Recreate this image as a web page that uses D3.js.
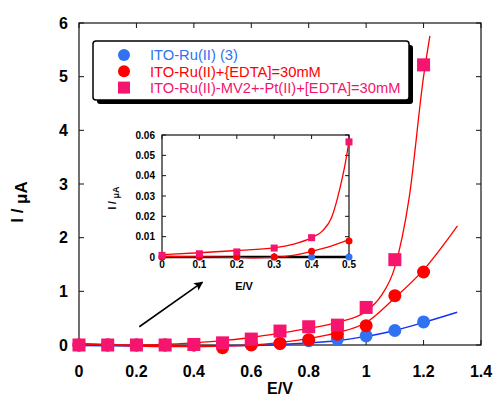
<!DOCTYPE html>
<html>
<head>
<meta charset="utf-8">
<script src="https://cdn.jsdelivr.net/npm/d3@7"></script>
<style>
  body{margin:0;background:#fff;}
  svg{display:block;font-family:"Liberation Sans",Arial,sans-serif;font-weight:bold;}
</style>
</head>
<body>
<svg id="chart" width="495" height="398"></svg>
<script>
// main plot values
const potentials = [0, 0.1, 0.2, 0.3, 0.4, 0.5, 0.6, 0.7, 0.8, 0.9, 1.0, 1.1, 1.2];
const ruOnly = [0, 0, 0, 0, 0, 0, 0.01, 0.03, 0.08, 0.11, 0.17, 0.27, 0.43];
const ruEdta = [0, 0, 0, 0, 0, -0.05, 0, 0.03, 0.1, 0.2, 0.36, 0.92, 1.36];
const ruMvPt = [0, 0, 0, 0, 0.01, 0.04, 0.11, 0.26, 0.34, 0.37, 0.7, 1.59, 5.22];
// fitted curves, [E, I]
const fitRuOnly = [[0,-0.01],[0.2,-0.02],[0.4,-0.02],[0.6,-0.01],[0.7,0.01],[0.8,0.04],[0.9,0.08],[1.0,0.16],[1.1,0.27],[1.2,0.42],[1.317,0.61]];
const fitRuEdta = [[0,0.02],[0.1,0.0],[0.2,-0.02],[0.3,-0.03],[0.4,-0.03],[0.5,-0.02],[0.6,0.0],[0.7,0.05],[0.8,0.12],[0.9,0.23],[1.0,0.42],[1.1,0.88],[1.2,1.4],[1.318,2.22]];
const fitRuMvPt = [[0,0.03],[0.1,0.01],[0.2,0.0],[0.3,0.01],[0.4,0.04],[0.5,0.08],[0.6,0.14],[0.7,0.22],[0.8,0.31],[0.9,0.42],[1.0,0.63],[1.05,0.9],[1.1,1.45],[1.15,2.75],[1.2,5.0],[1.222,5.76]];
const xTicks = [0, 0.2, 0.4, 0.6, 0.8, 1, 1.2, 1.4];
const yTicks = [0, 1, 2, 3, 4, 5, 6];
// inset values
const insetPotentials = [0, 0.1, 0.2, 0.3, 0.4, 0.5];
const insetRuOnly = [0, 0, 0, 0, 0, 0];
const insetRuEdta = [0, 0, 0, 0, 0.0028, 0.0079];
const insetRuMvPt = [0.0008, 0.0016, 0.0025, 0.0044, 0.0095, 0.0566];
const insetFitRuOnly = [[0,0],[0.5,0]];
const insetFitRuEdta = [[0,0.0003],[0.1,0.0001],[0.2,-0.0002],[0.25,-0.0004],[0.3,-0.0002],[0.35,0.0008],[0.4,0.0028],[0.45,0.0052],[0.5,0.0085]];
const insetFitRuMvPt = [[0,0.0012],[0.1,0.0021],[0.2,0.0032],[0.3,0.0045],[0.35,0.0062],[0.4,0.0095],[0.43,0.013],[0.454,0.0197],[0.476,0.034],[0.49,0.046],[0.5,0.057]];
const insetXTicks = [0, 0.1, 0.2, 0.3, 0.4, 0.5];
const insetYTicks = [0, 0.01, 0.02, 0.03, 0.04, 0.05, 0.06];
const legendLabels = ["ITO-Ru(II) (3)", "ITO-Ru(II)+{EDTA]=30mM", "ITO-Ru(II)-MV2+-Pt(II)+[EDTA]=30mM"];
const arrowFrom = [0.21, 0.34];
const arrowTo = [0.43, 1.17];

const blue = "#2f72f2", red = "#ff0000", pink = "#f5146e", lineBlue = "#1030ff";

const svg = d3.select("#chart");

const x = d3.scaleLinear().domain([0, 1.4]).range([79, 481]);
const y = d3.scaleLinear().domain([0, 6]).range([345, 23]);

//frame + ticks (inside, all four sides)
function frame(g, sx, sy, xt, yt, tl, fmtX, fmtY, fs, xOff, yOff){
    const [x0, x1] = sx.range(), [y0, y1] = sy.range();
    g.append("rect").attr("x", x0).attr("y", y1).attr("width", x1 - x0).attr("height", y0 - y1)
        .attr("fill", "none").attr("stroke", "#111").attr("stroke-width", 1.2);
    xt.forEach(t => {
        g.append("line").attr("x1", sx(t)).attr("x2", sx(t)).attr("y1", y0).attr("y2", y0 - tl).attr("stroke", "#111");
        g.append("line").attr("x1", sx(t)).attr("x2", sx(t)).attr("y1", y1).attr("y2", y1 + tl).attr("stroke", "#111");
        g.append("text").attr("x", sx(t)).attr("y", y0 + xOff).attr("text-anchor", "middle")
            .attr("font-size", fs).text(fmtX(t));
    });
    yt.forEach(t => {
        g.append("line").attr("y1", sy(t)).attr("y2", sy(t)).attr("x1", x0).attr("x2", x0 + tl).attr("stroke", "#111");
        g.append("line").attr("y1", sy(t)).attr("y2", sy(t)).attr("x1", x1).attr("x2", x1 - tl).attr("stroke", "#111");
        g.append("text").attr("x", x0 - yOff).attr("y", sy(t)).attr("dy", "0.36em").attr("text-anchor", "end")
            .attr("font-size", fs).text(fmtY(t));
    });
}

function series(g, sx, sy, xs, ys, fits, r, sq){
    const line = d3.line().x(d => sx(d[0])).y(d => sy(d[1])).curve(d3.curveMonotoneX);
    fits.forEach(f => {
        g.append("path").attr("d", line(f.pts)).attr("fill", "none")
            .attr("stroke", f.color).attr("stroke-width", f.w || 1.3);
    });
    g.selectAll(null).data(xs.map((e, i) => [e, ys[0][i]])).join("circle")
        .attr("cx", d => sx(d[0])).attr("cy", d => sy(d[1])).attr("r", r).attr("fill", blue);
    g.selectAll(null).data(xs.map((e, i) => [e, ys[1][i]])).join("circle")
        .attr("cx", d => sx(d[0])).attr("cy", d => sy(d[1])).attr("r", r).attr("fill", red);
    g.selectAll(null).data(xs.map((e, i) => [e, ys[2][i]])).join("rect")
        .attr("x", d => sx(d[0]) - sq / 2).attr("y", d => sy(d[1]) - sq / 2)
        .attr("width", sq).attr("height", sq).attr("fill", pink);
}

const main = svg.append("g");
frame(main, x, y, xTicks, yTicks, 5, d => d3.format("~g")(d), d => d, 16, 32, 11);

series(main, x, y, potentials, [ruOnly, ruEdta, ruMvPt], [
    {pts: fitRuOnly, color: lineBlue, w: 1.4},
    {pts: fitRuEdta, color: red},
    {pts: fitRuMvPt, color: red}
], 6.5, 13);

main.append("text").attr("x", (x.range()[0] + x.range()[1]) / 2).attr("y", 394)
    .attr("text-anchor", "middle").attr("font-size", 16).text("E/V");
const yt = main.append("text").attr("transform", "translate(23,202) rotate(-90)")
    .attr("text-anchor", "middle").attr("font-size", 17);
yt.append("tspan").text("I / ");
yt.append("tspan").attr("dy", 4).text("μA");

// arrow
const defs = svg.append("defs");
defs.append("marker").attr("id", "ah").attr("viewBox", "0 0 10 10").attr("refX", 9).attr("refY", 5)
    .attr("markerWidth", 13).attr("markerHeight", 9).attr("markerUnits", "userSpaceOnUse").attr("orient", "auto")
  .append("path").attr("d", "M0,0 L10,5 L0,10 L2,5 Z").attr("fill", "#000");
main.append("line").attr("x1", x(arrowFrom[0])).attr("y1", y(arrowFrom[1]))
    .attr("x2", x(arrowTo[0])).attr("y2", y(arrowTo[1]))
    .attr("stroke", "#000").attr("stroke-width", 1.6).attr("marker-end", "url(#ah)");

// legend
const lg = svg.append("g");
lg.append("rect").attr("x", 97).attr("y", 45).attr("width", 316).attr("height", 59).attr("rx", 3).attr("fill", "#000");
lg.append("rect").attr("x", 93).attr("y", 41).attr("width", 316).attr("height", 59).attr("rx", 3)
    .attr("fill", "#fff").attr("stroke", "#000").attr("stroke-width", 1.5);
const legColors = [blue, red, pink];
legendLabels.forEach((lab, i) => {
    const cy = 55 + i * 16.3;
    if(i < 2){
        lg.append("circle").attr("cx", 124).attr("cy", cy).attr("r", 6).attr("fill", legColors[i]);
    }else{
        lg.append("rect").attr("x", 118).attr("y", cy - 6).attr("width", 12).attr("height", 12).attr("fill", legColors[i]);
    }
    lg.append("text").attr("x", 150).attr("y", cy + 5.3).attr("font-size", 14.7).attr("font-weight", "normal")
        .attr("fill", legColors[i]).text(lab);
});

// inset
const xi = d3.scaleLinear().domain([0, 0.5]).range([162, 349]);
const yi = d3.scaleLinear().domain([0, 0.06]).range([257, 135]);
const inset = svg.append("g");
inset.append("rect").attr("x", 162).attr("y", 135).attr("width", 187).attr("height", 122).attr("fill", "#fff");
frame(inset, xi, yi, insetXTicks, insetYTicks, 4, d => d, d => d, 10, 11, 7);
series(inset, xi, yi, insetPotentials, [insetRuOnly, insetRuEdta, insetRuMvPt], [
    {pts: insetFitRuOnly, color: "#000", w: 2.4},
    {pts: insetFitRuEdta, color: red},
    {pts: insetFitRuMvPt, color: red}
], 3.5, 7);
inset.append("text").attr("x", 244).attr("y", 290).attr("text-anchor", "middle").attr("font-size", 11).text("E/V");
const it = inset.append("text").attr("transform", "translate(116,198) rotate(-90)")
    .attr("text-anchor", "middle").attr("font-size", 10);
it.append("tspan").text("I / ");
it.append("tspan").attr("dy", 3).attr("font-size", 9).text("μA");
</script>
</body>
</html>
